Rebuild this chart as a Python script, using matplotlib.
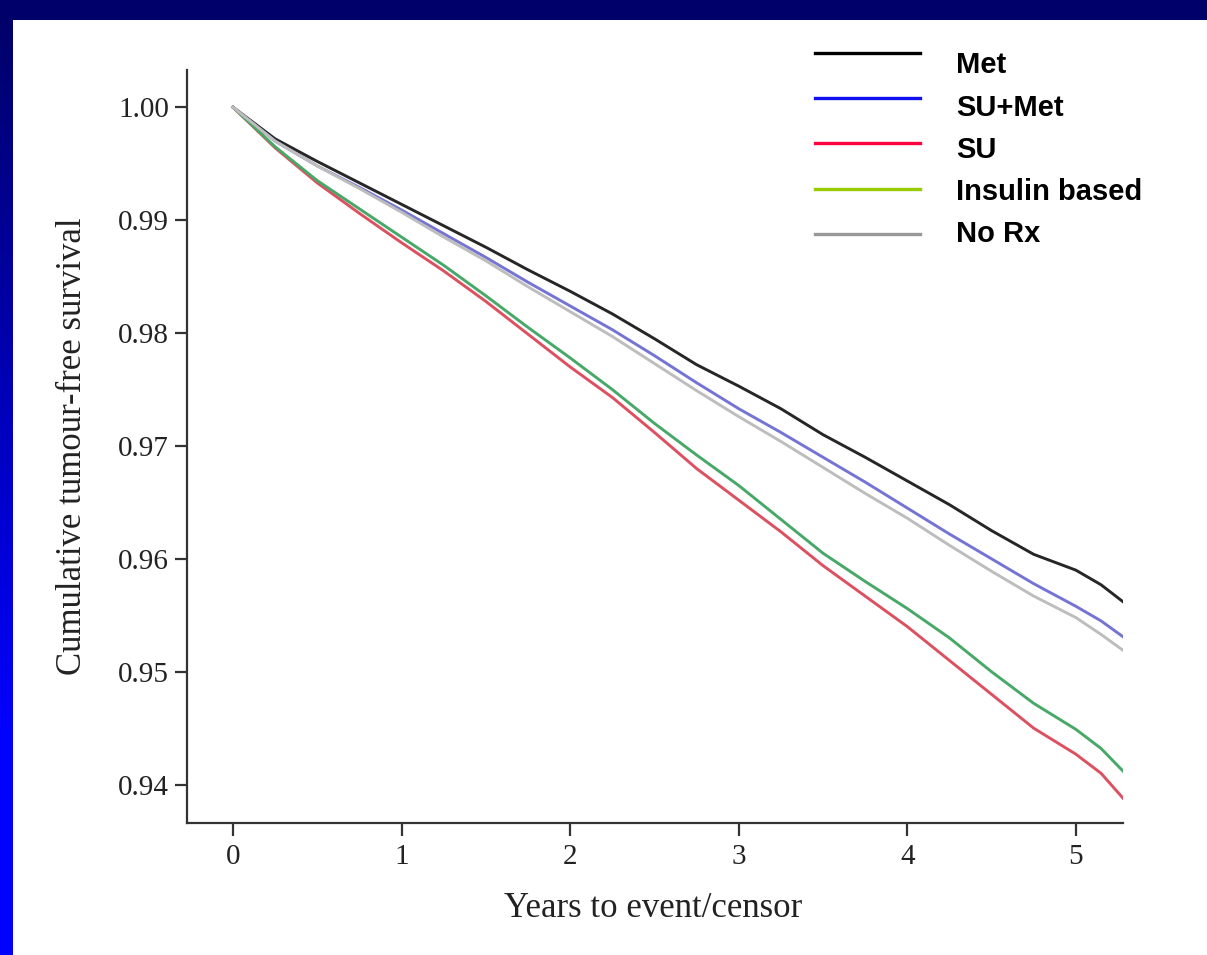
import numpy as np
import matplotlib
matplotlib.use("Agg")
import matplotlib.pyplot as plt
from matplotlib.lines import Line2D

# Years of follow-up at which the curves were read
years = [0, 0.25, 0.5, 0.75, 1.0, 1.25, 1.5, 1.75, 2.0, 2.25, 2.5, 2.75,
         3.0, 3.25, 3.5, 3.75, 4.0, 4.25, 4.5, 4.75, 5.0, 5.15, 5.28]

met = [1.0, 0.9972, 0.9952, 0.9933, 0.9914, 0.9895, 0.9876, 0.9856, 0.9837,
       0.9817, 0.9795, 0.9772, 0.9753, 0.9733, 0.9710, 0.9690, 0.9669, 0.9648,
       0.9625, 0.9604, 0.9590, 0.9577, 0.9562]
su_met = [1.0, 0.9970, 0.9948, 0.9929, 0.9909, 0.9888, 0.9867, 0.9845, 0.9824,
          0.9803, 0.9780, 0.9756, 0.9733, 0.9712, 0.9690, 0.9668, 0.9645, 0.9622,
          0.9600, 0.9578, 0.9558, 0.9545, 0.9531]
su = [1.0, 0.9964, 0.9933, 0.9906, 0.9880, 0.9855, 0.9828, 0.9799, 0.9770,
      0.9743, 0.9712, 0.9680, 0.9652, 0.9624, 0.9594, 0.9567, 0.9540, 0.9510,
      0.9480, 0.9450, 0.9427, 0.9410, 0.9388]
insulin = [1.0, 0.9965, 0.9935, 0.9910, 0.9885, 0.9860, 0.9833, 0.9805, 0.9778,
           0.9750, 0.9720, 0.9692, 0.9665, 0.9635, 0.9605, 0.9580, 0.9556, 0.9530,
           0.9500, 0.9472, 0.9449, 0.9432, 0.9412]
no_rx = [1.0, 0.9970, 0.9948, 0.9928, 0.9907, 0.9885, 0.9864, 0.9841, 0.9819,
         0.9797, 0.9773, 0.9749, 0.9726, 0.9704, 0.9681, 0.9658, 0.9636, 0.9612,
         0.9589, 0.9567, 0.9548, 0.9533, 0.9519]

labels = ["Met", "SU+Met", "SU", "Insulin based", "No Rx"]
legend_colors = ["#000000", "#1010f0", "#ff0040", "#99cc00", "#999999"]
curve_colors = ["#262626", "#7474d4", "#dd5060", "#48a868", "#bdbdbd"]

x_ticks = [0, 1, 2, 3, 4, 5]
y_ticks = [0.94, 0.95, 0.96, 0.97, 0.98, 0.99, 1.00]

W, H = 1207, 955
fig = plt.figure(figsize=(W / 100, H / 100), dpi=100)
fig.patch.set_facecolor("white")

# slide frame: dark top band and a blue gradient strip on the left
top = fig.add_axes([0, 1 - 20 / H, 1, 20 / H])
top.set_facecolor("#00006a")
top.set_xticks([]); top.set_yticks([])
for s in top.spines.values():
    s.set_visible(False)

side = fig.add_axes([0, 0, 13 / W, 1 - 20 / H])
grad = np.clip(np.linspace(0, 1.3, 256), 0, 1)[:, None]
cols = np.zeros((256, 1, 3))
cols[..., 2] = (0x6a + (0xff - 0x6a) * grad) / 255.0
side.imshow(cols, aspect="auto", extent=[0, 1, 0, 1])
side.set_axis_off()

ax = fig.add_axes([187 / W, 1 - 823 / H, (1123 - 187) / W, (823 - 70) / H])
series = [met, su_met, su, insulin, no_rx]
order = [4, 3, 2, 1, 0]
for i in order:
    ax.plot(years, series[i], color=curve_colors[i], lw=2.1, zorder=3 + i)

ax.set_xlim(-0.273, 5.28)
ax.set_ylim(0.9366, 1.0033)
ax.set_xticks(x_ticks)
ax.set_xticklabels([str(t) for t in x_ticks])
ax.set_yticks(y_ticks)
ax.set_yticklabels([f"{v:.2f}" for v in y_ticks])
for side_name in ["top", "right"]:
    ax.spines[side_name].set_visible(False)
for side_name in ["left", "bottom"]:
    ax.spines[side_name].set_color("#333333")
    ax.spines[side_name].set_linewidth(1.6)
ax.tick_params(axis="both", direction="out", length=9, width=1.6, color="#333333",
               labelsize=21, labelcolor="#222222")
ax.tick_params(axis="x", pad=6)
ax.tick_params(axis="y", pad=4)
for lab in ax.get_xticklabels() + ax.get_yticklabels():
    lab.set_family("Liberation Serif")

fig.text(73 / W, 1 - 446 / H, "Cumulative tumour-free survival", rotation=90,
         ha="center", va="center", fontsize=25, family="Liberation Serif", color="#222222")
fig.text(653 / W, 1 - 908 / H, "Years to event/censor", ha="center", va="center",
         fontsize=25, family="Liberation Serif", color="#222222")

# legend drawn by hand, line to the left and bold label to the right
line_y = [53, 98, 143, 189, 234]
text_y = [65, 108, 150, 192, 234]
for lab, c, ly, ty in zip(labels, legend_colors, line_y, text_y):
    fig.add_artist(Line2D([815 / W, 920 / W], [1 - ly / H, 1 - ly / H],
                          color=c, lw=2.4, transform=fig.transFigure))
    fig.text(956 / W, 1 - ty / H, lab, ha="left", va="center", fontsize=21,
             fontweight="bold", family="Liberation Sans", color="black")

fig.savefig("out.png", dpi=100)
